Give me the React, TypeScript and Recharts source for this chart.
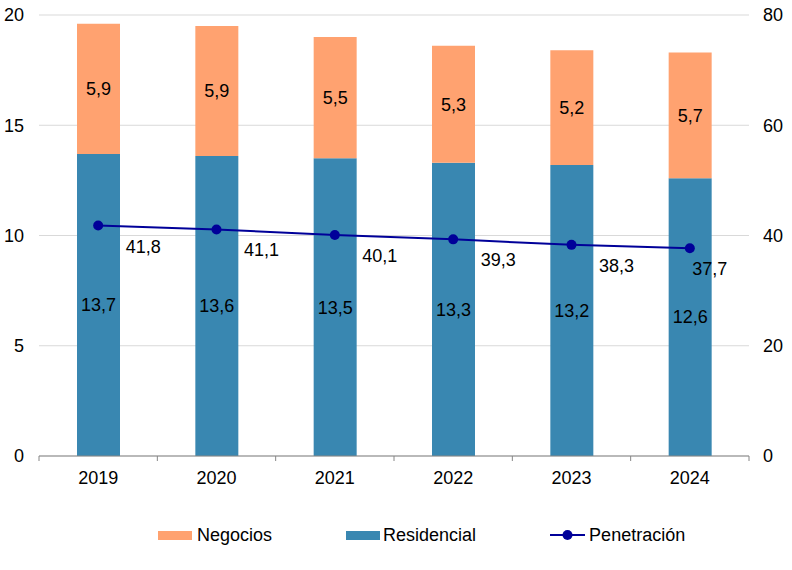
import React from "react";
import { ComposedChart, Bar, Line, XAxis, YAxis, CartesianGrid, Legend, LabelList } from "recharts";

const years = ["2019", "2020", "2021", "2022", "2023", "2024"];
const residencial = [13.7, 13.6, 13.5, 13.3, 13.2, 12.6];
const negocios = [5.9, 5.9, 5.5, 5.3, 5.2, 5.7];
const penetracion = [41.8, 41.1, 40.1, 39.3, 38.3, 37.7];
const leftTicks = [0, 5, 10, 15, 20];
const rightTicks = [0, 20, 40, 60, 80];

const data = years.map((year, i) => ({
  year,
  residencial: residencial[i],
  negocios: negocios[i],
  penetracion: penetracion[i],
}));

const ORANGE = "#FFA270";
const BLUE = "#3987B1";
const NAVY = "#000099";
const FONT = '"Liberation Sans", Arial, sans-serif';
const W = 792;
const H = 570;
const LEFT_W = 39;
const RIGHT_W = 43;
const BAND = (W - LEFT_W - RIGHT_W) / years.length;

const fmt = (v: any) => Number(v).toFixed(1).replace(".", ",");

const YearTick = ({ x, y, payload, index }: any) => (
  <g>
    <line x1={x - BAND / 2} x2={x - BAND / 2} y1={y} y2={y + 5} stroke="#868686" />
    {index === years.length - 1 && (
      <line x1={x + BAND / 2} x2={x + BAND / 2} y1={y} y2={y + 5} stroke="#868686" />
    )}
    <text x={x} y={y + 28} textAnchor="middle" fill="#000" fontSize={18} fontFamily={FONT}>
      {payload.value}
    </text>
  </g>
);

const PenLabel = ({ x, y, value, index }: any) => (
  <text
    x={x + (index === years.length - 1 ? 20 : 45)}
    y={y + 27}
    textAnchor="middle"
    fill="#000"
    fontSize={18}
    fontFamily={FONT}
  >
    {fmt(value)}
  </text>
);

const LegendBox = () => (
  <div
    style={{
      display: "flex",
      alignItems: "center",
      height: 24,
      paddingLeft: 158,
      gap: 74,
      fontFamily: FONT,
      fontSize: 18,
      color: "#000",
    }}
  >
    <div style={{ display: "flex", alignItems: "center" }}>
      <span style={{ width: 34, height: 9, background: ORANGE, marginRight: 5 }} />
      Negocios
    </div>
    <div style={{ display: "flex", alignItems: "center" }}>
      <span style={{ width: 34, height: 9, background: BLUE, marginRight: 3 }} />
      Residencial
    </div>
    <div style={{ display: "flex", alignItems: "center" }}>
      <svg width={35} height={12} style={{ marginRight: 4 }}>
        <line x1={0} x2={35} y1={6} y2={6} stroke={NAVY} strokeWidth={2} />
        <circle cx={17.5} cy={6} r={5} fill={NAVY} />
      </svg>
      Penetración
    </div>
  </div>
);

export default function App() {
  return (
    <div style={{ position: "absolute", left: 0, top: 0, background: "#fff" }}>
      <ComposedChart
        width={W}
        height={H}
        data={data}
        margin={{ top: 15, right: 0, bottom: 23, left: 0 }}
        barSize={43}
      >
        <CartesianGrid yAxisId="left" vertical={false} stroke="#D9D9D9" />
        <XAxis
          dataKey="year"
          height={67}
          tickLine={false}
          tickSize={0}
          tickMargin={0}
          axisLine={{ stroke: "#868686" }}
          tick={<YearTick />}
          interval={0}
        />
        <YAxis
          yAxisId="left"
          width={LEFT_W}
          domain={[0, 20]}
          ticks={leftTicks}
          axisLine={false}
          tickLine={false}
          tickMargin={9}
          tick={{ fill: "#000", fontSize: 18, fontFamily: FONT }}
        />
        <YAxis
          yAxisId="right"
          orientation="right"
          width={RIGHT_W}
          domain={[0, 80]}
          ticks={rightTicks}
          axisLine={false}
          tickLine={false}
          tickMargin={8}
          tick={{ fill: "#000", fontSize: 18, fontFamily: FONT, textAnchor: "start" }}
        />
        <Legend verticalAlign="bottom" height={24} content={<LegendBox />} />
        <Bar yAxisId="left" dataKey="residencial" name="Residencial" stackId="a" fill={BLUE} isAnimationActive={false}>
          <LabelList dataKey="residencial" position="center" formatter={fmt} fill="#000" fontSize={18} fontFamily={FONT} />
        </Bar>
        <Bar yAxisId="left" dataKey="negocios" name="Negocios" stackId="a" fill={ORANGE} isAnimationActive={false}>
          <LabelList dataKey="negocios" position="center" formatter={fmt} fill="#000" fontSize={18} fontFamily={FONT} />
        </Bar>
        <Line
          yAxisId="right"
          dataKey="penetracion"
          name="Penetración"
          stroke={NAVY}
          strokeWidth={2}
          dot={{ r: 5, fill: NAVY, stroke: NAVY, strokeWidth: 0 }}
          isAnimationActive={false}
        >
          <LabelList dataKey="penetracion" content={<PenLabel />} />
        </Line>
      </ComposedChart>
    </div>
  );
}
